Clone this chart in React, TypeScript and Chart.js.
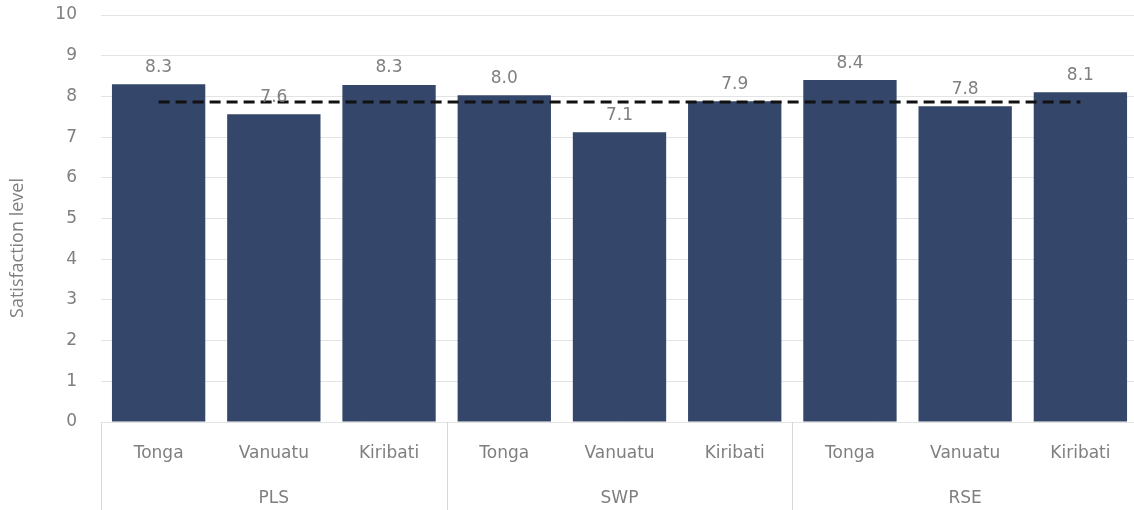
import React, { useEffect, useRef } from "react";
import { Chart, registerables } from "chart.js";

Chart.register(...registerables);

const categories = ["Tonga", "Vanuatu", "Kiribati", "Tonga", "Vanuatu", "Kiribati", "Tonga", "Vanuatu", "Kiribati"];
const groups = ["PLS", "SWP", "RSE"];
const groupSize = 3;
const satisfaction = [8.3, 7.56, 8.28, 8.03, 7.12, 7.88, 8.4, 7.76, 8.1];
const averageLine = [7.86, 7.86, 7.86, 7.86, 7.86, 7.86, 7.86, 7.86, 7.86];
const yMin = 0;
const yMax = 10;
const yTitle = "Satisfaction level";

const GREY = "#7f7f7f";
const FONT = "'DejaVu Sans', sans-serif";
const FS = 17;

const extrasPlugin = {
  id: "extras",
  afterDatasetsDraw(chart: any) {
    const ctx = chart.ctx;
    const meta = chart.getDatasetMeta(0);
    ctx.save();
    ctx.font = `${FS}px ${FONT}`;
    ctx.fillStyle = GREY;
    ctx.textAlign = "center";
    ctx.textBaseline = "middle";
    meta.data.forEach((el: any, i: number) => {
      ctx.fillText(satisfaction[i].toFixed(1), el.x, el.y - 17);
    });
    ctx.restore();
  },
  afterDraw(chart: any) {
    const ctx = chart.ctx;
    const area = chart.chartArea;
    const xs = chart.scales.x;
    const h = chart.height;
    ctx.save();
    ctx.strokeStyle = "#d9d9d9";
    ctx.lineWidth = 1;
    const bounds: number[] = [area.left];
    for (let g = 1; g < groups.length; g++) {
      const a = xs.getPixelForValue(g * groupSize - 1);
      const b = xs.getPixelForValue(g * groupSize);
      bounds.push((a + b) / 2);
    }
    bounds.push(area.right);
    bounds.forEach((x) => {
      const px = Math.round(x) + 0.5;
      ctx.beginPath();
      ctx.moveTo(px, area.bottom);
      ctx.lineTo(px, h);
      ctx.stroke();
    });
    ctx.font = `${FS}px ${FONT}`;
    ctx.fillStyle = GREY;
    ctx.textAlign = "center";
    ctx.textBaseline = "middle";
    groups.forEach((g, i) => {
      ctx.fillText(g, (bounds[i] + bounds[i + 1]) / 2, 499);
    });
    ctx.font = `18px 'Open Sans', sans-serif`;
    ctx.translate(18, 248);
    ctx.rotate(-Math.PI / 2);
    ctx.fillText(yTitle, 0, 0);
    ctx.restore();
  },
};

export default function App() {
  const ref = useRef<HTMLCanvasElement | null>(null);
  useEffect(() => {
    if (!ref.current) return;
    const chart = new Chart(ref.current, {
      type: "bar",
      data: {
        labels: categories,
        datasets: [
          {
            type: "bar",
            data: satisfaction,
            backgroundColor: "#344669",
            categoryPercentage: 1,
            barPercentage: 0.81,
            order: 1,
          } as any,
          {
            type: "line",
            data: averageLine,
            borderColor: "#111111",
            borderWidth: 3,
            borderDash: [11, 6],
            pointRadius: 0,
            fill: false,
            order: 0,
          } as any,
        ],
      },
      options: {
        animation: false,
        responsive: true,
        maintainAspectRatio: false,
        layout: { padding: { top: 15, right: 2, left: 0, bottom: 0 } },
        plugins: { legend: { display: false }, tooltip: { enabled: false } },
        scales: {
          x: {
            grid: { display: false, drawTicks: false },
            border: { display: false },
            ticks: { color: GREY, font: { family: FONT, size: FS }, padding: 21, maxRotation: 0, autoSkip: false },
            afterFit(scale: any) {
              scale.height = 88;
            },
          },
          y: {
            min: yMin,
            max: yMax,
            grid: { color: "#e3e3e3", drawTicks: false, lineWidth: 1 },
            border: { display: false },
            ticks: { stepSize: 1, color: GREY, font: { family: FONT, size: FS }, padding: 24 },
            afterFit(scale: any) {
              scale.width = 101;
              scale.paddingTop = 0;
              scale.paddingBottom = 0;
            },
          },
        },
      },
      plugins: [extrasPlugin],
    } as any);
    return () => chart.destroy();
  }, []);
  return (
    <div style={{ position: "fixed", left: 0, top: 0, width: 1134, height: 510, overflow: "hidden", background: "#fff" }}>
      <div style={{ position: "relative", width: 1140, height: 510 }}>
        <canvas ref={ref} />
      </div>
    </div>
  );
}
